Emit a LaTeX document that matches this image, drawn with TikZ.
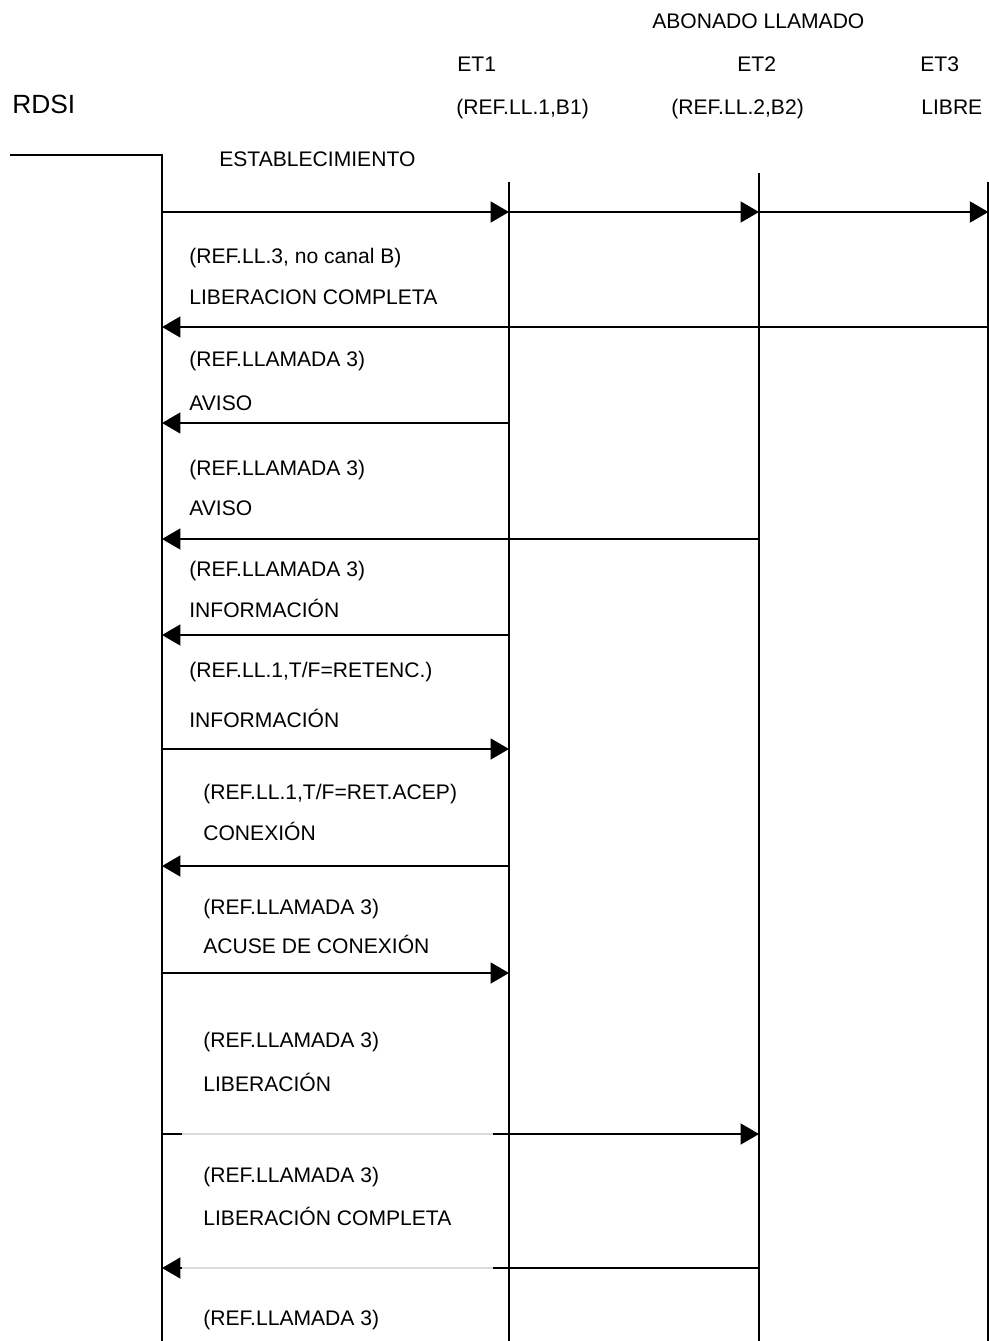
\documentclass[tikz,border=0pt]{standalone}
\usepackage{fontspec}
\setmainfont{Liberation Sans}
\usepackage{tikz}
\usetikzlibrary{arrows.meta}
\tikzset{>={Triangle[length=0.37cm,width=0.42cm]}}
\tikzset{life/.style={line width=1.1pt},
  msg/.style={line width=1.1pt, ->},
  gapline/.style={line width=1.2pt, black!14},
  lbl/.style={anchor=base west, inner sep=0pt, font=\fontsize{12}{14}\selectfont}}

\begin{document}
\begin{tikzpicture}[x=0.02cm, y=-0.02cm]
\useasboundingbox (0,0) rectangle (989,1341);
% lifelines
\coordinate (corner) at (10,155);
\coordinate (t0) at (162,155);
\coordinate (t1) at (509,182);
\coordinate (t2) at (759,173);
\coordinate (t3) at (988.4,182);
\coordinate (b0) at (162,1345);
\coordinate (b1) at (509,1345);
\coordinate (b2) at (759,1345);
\coordinate (b3) at (988.4,1345);
\draw[life] (corner) -- (t0) -- (b0);
\draw[life] (t1) -- (b1);
\draw[life] (t2) -- (b2);
\draw[life] (t3) -- (b3);
% heights of the messages
\coordinate (m1) at (0,212);
\coordinate (m2) at (0,327);
\coordinate (m3) at (0,423);
\coordinate (m4) at (0,539);
\coordinate (m5) at (0,635);
\coordinate (m6) at (0,749);
\coordinate (m7) at (0,866);
\coordinate (m8) at (0,973);
\coordinate (m9) at (0,1134);
\coordinate (m10) at (0,1268);
\coordinate (gapL) at (182,0);
\coordinate (gapR) at (493,0);
% headings
\node[lbl] (abonado) at (652,29) {ABONADO LLAMADO};
\node[lbl] (et1) at (457,72) {ET1};
\node[lbl] (et2) at (737,72) {ET2};
\node[lbl] (et3) at (920,72) {ET3};
\node[lbl, font=\fontsize{15}{17}\selectfont] (rdsi) at (12,114) {RDSI};
\node[lbl] (ref1) at (456,115) {(REF.LL.1,B1)};
\node[lbl] (ref2) at (671,115) {(REF.LL.2,B2)};
\node[lbl] (libre) at (921,115) {LIBRE};
\node[lbl] (estab) at (219,167) {ESTABLECIMIENTO};
% messages
\draw[msg] (t0 |- m1) -- (t1 |- m1);
\draw[msg] (t1 |- m1) -- (t2 |- m1);
\draw[msg] (t2 |- m1) -- (t3 |- m1);
\node[lbl] (txt2a) at (189,264) {(REF.LL.3, no canal B)};
\node[lbl] (txt2b) at (189,305) {LIBERACION COMPLETA};
\draw[msg] (t3 |- m2) -- (t0 |- m2);
\node[lbl] (txt3a) at (189,366) {(REF.LLAMADA 3)};
\node[lbl] (txt3b) at (189,410) {AVISO};
\draw[msg] (t1 |- m3) -- (t0 |- m3);
\node[lbl] (txt4a) at (189,475) {(REF.LLAMADA 3)};
\node[lbl] (txt4b) at (189,515) {AVISO};
\draw[msg] (t2 |- m4) -- (t0 |- m4);
\node[lbl] (txt5a) at (189,576) {(REF.LLAMADA 3)};
\node[lbl] (txt5b) at (189,617) {INFORMACIÓN};
\draw[msg] (t1 |- m5) -- (t0 |- m5);
\node[lbl] (txt6a) at (189,677) {(REF.LL.1,T/F=RETENC.)};
\node[lbl] (txt6b) at (189,727) {INFORMACIÓN};
\draw[msg] (t0 |- m6) -- (t1 |- m6);
\node[lbl] (txt7a) at (203,799) {(REF.LL.1,T/F=RET.ACEP)};
\node[lbl] (txt7b) at (203,840) {CONEXIÓN};
\draw[msg] (t1 |- m7) -- (t0 |- m7);
\node[lbl] (txt8a) at (203,914) {(REF.LLAMADA 3)};
\node[lbl] (txt8b) at (203,953) {ACUSE DE CONEXIÓN};
\draw[msg] (t0 |- m8) -- (t1 |- m8);
\node[lbl] (txt9a) at (203,1047) {(REF.LLAMADA 3)};
\node[lbl] (txt9b) at (203,1091) {LIBERACIÓN};
\draw[msg] (t0 |- m9) -- (t2 |- m9);
\draw[gapline] (gapL |- m9) -- (gapR |- m9);
\node[lbl] (txt10a) at (203,1182) {(REF.LLAMADA 3)};
\node[lbl] (txt10b) at (203,1225) {LIBERACIÓN COMPLETA};
\draw[msg] (t2 |- m10) -- (t0 |- m10);
\draw[gapline] (gapL |- m10) -- (gapR |- m10);
\node[lbl] (txt11a) at (203,1325) {(REF.LLAMADA 3)};
\end{tikzpicture}
\end{document}
